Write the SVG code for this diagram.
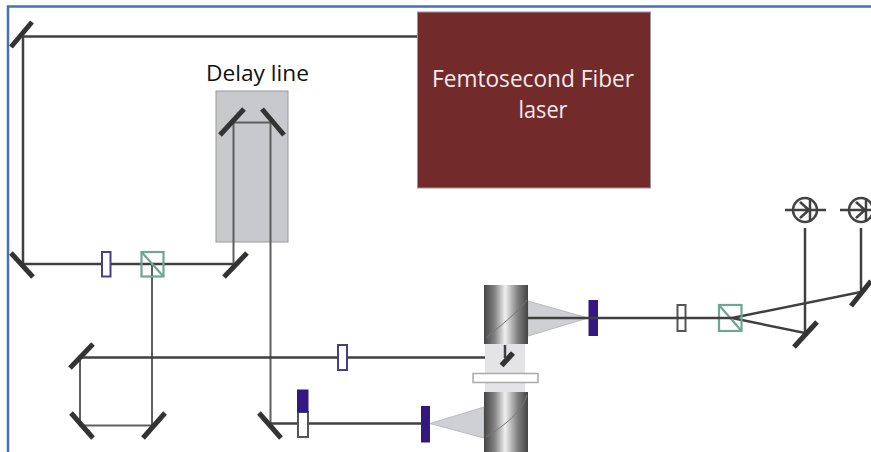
<svg xmlns="http://www.w3.org/2000/svg" width="871" height="452" viewBox="0 0 871 452">
<defs>
<linearGradient id="cyl" x1="0" x2="1" y1="0" y2="0">
<stop offset="0" stop-color="#454545"/><stop offset="0.25" stop-color="#858585"/><stop offset="0.48" stop-color="#f0f0f0"/><stop offset="0.75" stop-color="#858585"/><stop offset="1" stop-color="#434343"/>
</linearGradient>
</defs>
<style>
.b{stroke:#404040;stroke-width:2.500;fill:none}
.t{stroke:#5f5f5f;stroke-width:2;fill:none}
.m{stroke:#333;stroke-width:5;fill:none}
.wp{fill:#fff;stroke:#4a3f85;stroke-width:2}
.g{fill:none;stroke:#6fa595;stroke-width:2.200}
.k{fill:#fff;stroke:#555;stroke-width:2}
.d{fill:#33197f;stroke:#33197f}
.f{fill:#cfd0d3;stroke:#bbb}
text{font-family:"Open Sans","Noto Sans","Liberation Sans",sans-serif}
</style>
<rect width="871" height="452" fill="#fff"/>
<path d="M8 452V6.500H871" fill="none" stroke="#4472b8" stroke-width="2.500"/>
<g id="delay-line"><rect x="216" y="91" width="72" height="151" fill="#c8c9cd" stroke="#999"/><text x="257.500" y="81" font-size="22.500" text-anchor="middle" fill="#111" textLength="103" lengthAdjust="spacingAndGlyphs">Delay line</text></g>
<g id="laser"><rect x="417.500" y="12" width="233" height="176" fill="#722a2b" stroke="#999"/><text x="533" y="87" font-size="24" text-anchor="middle" fill="#f4ecec" textLength="202" lengthAdjust="spacingAndGlyphs">Femtosecond Fiber</text><text x="543" y="118" font-size="24" text-anchor="middle" fill="#f4ecec" textLength="49" lengthAdjust="spacingAndGlyphs">laser</text></g>
<g id="connectors">
<path class="b" d="M417 36.500H23V264H233"/>
<path class="t" d="M233.500 264V122.500H270.500V423"/>
<path class="t" d="M152 264V425.500H80V357"/>
<path class="b" d="M80 357.500H505"/>
<path class="b" d="M271 423.500H425"/>
<path class="b" d="M732 318L861 292V228"/>
<path class="b" d="M732 318L805 333V228"/>
</g>
<g id="sample">
<rect x="485" y="344" width="40" height="48" fill="#e4e4e6"/>
<path d="M528 301L588 318L528 336Z" class="f"/>
<path d="M484 407L430 423.500L484 438Z" class="f"/>
<rect x="484" y="285" width="44" height="59" fill="url(#cyl)"/>
<path d="M486 338C500 326 516 314 527 300" stroke="#777" fill="none"/>
<rect x="484" y="392" width="44" height="60" fill="url(#cyl)"/>
<path d="M486 437C505 425 522 412 527 395" stroke="#777" fill="none"/>
<rect x="473" y="373.500" width="65" height="9" fill="#fff" stroke="#aaa" stroke-width="1.500"/>
<path d="M501.500 365.500L513 353" stroke="#333" stroke-width="5.500" fill="none"/>
<path class="b" d="M505 345V358"/>
</g>
<g id="mirrors">
<path class="m" d="M11 47L32 22"/><path class="m" d="M11 253L33 277"/>
<path class="m" d="M224 277L247 253"/><path class="m" d="M220 135L244 109"/>
<path class="m" d="M262 109L284 135"/><path class="m" d="M70 368L93 344"/>
<path class="m" d="M71 413L93 438"/><path class="m" d="M143 438L165 413"/>
<path class="m" d="M259 413L281 438"/><path class="m" d="M794 347L817 322"/>
<path class="m" d="M851 306L871 281"/>
</g>
<g id="optics">
<rect class="wp" x="102" y="252" width="8.500" height="24.500"/>
<g id="pbs1"><rect class="g" x="141.500" y="252" width="22" height="24.500"/><path d="M141.500 252L163.500 276.500" stroke="#6fa595" stroke-width="2.200"/></g>
<rect class="wp" x="338" y="345" width="9" height="25"/>
<rect class="k" x="298" y="412" width="10" height="25"/><rect class="d" x="297.500" y="390" width="10.500" height="22"/>
<rect class="d" x="421.500" y="406.500" width="8" height="35.500"/>
<rect class="d" x="589" y="300.500" width="8.500" height="35"/>
<rect class="k" x="677.500" y="305" width="8" height="26"/>
<g id="pbs2"><rect class="g" x="719" y="305" width="22.500" height="26"/><path d="M719 305L741.500 331" stroke="#6fa595" stroke-width="2.200"/></g>
<path class="b" d="M528 318H732"/>
</g>
<g id="det1"><circle cx="805" cy="210" r="12" fill="#fff" stroke="#444" stroke-width="2.500"/><path class="b" d="M785 210H826M810 198V222M800 202L809 210L800 218"/></g>
<g id="det2"><circle cx="861" cy="210" r="12" fill="#fff" stroke="#444" stroke-width="2.500"/><path class="b" d="M840 210H871M866 198V222M856 202L865 210L856 218"/></g>
</svg>
